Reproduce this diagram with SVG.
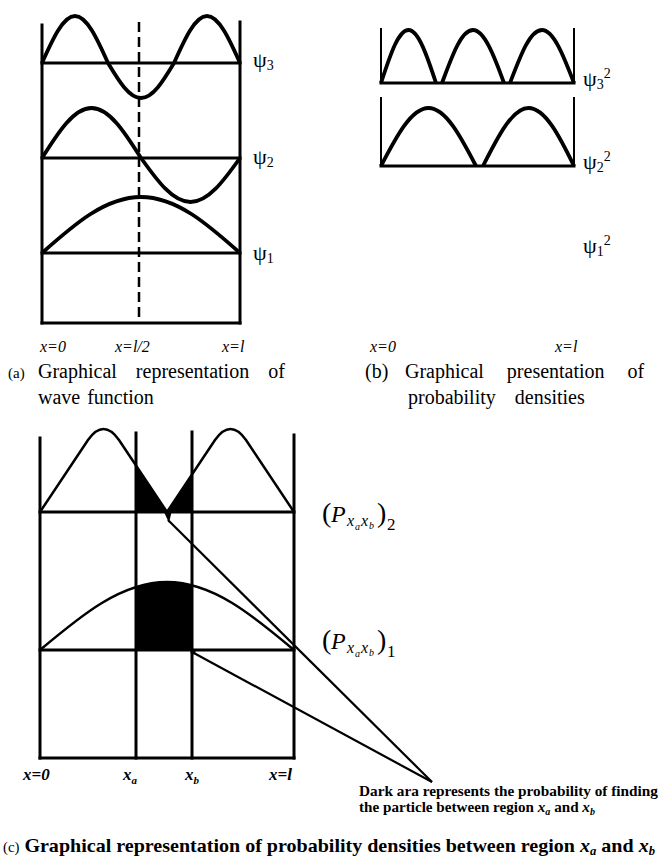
<svg xmlns="http://www.w3.org/2000/svg" width="662" height="863" viewBox="0 0 662 863">
<style>
  .frame{fill:none;stroke:#000;stroke-width:3;stroke-linecap:square}
  .thin{fill:none;stroke:#000;stroke-width:2}
  .curve{fill:none;stroke:#000;stroke-width:3.8;stroke-linejoin:round}
  .ccurve{fill:none;stroke:#000;stroke-width:2.5;stroke-linejoin:round}
  .dark{fill:#000;stroke:none}
  .dash{fill:none;stroke:#000;stroke-width:2.5;stroke-dasharray:10 5}
  .ptr{fill:none;stroke:#000;stroke-width:2.2}
  text{font-family:"Liberation Serif","Times New Roman",serif;fill:#000}
  .psi{font-size:22px}
  .ax{font-size:16px;font-style:italic}
  .axc{font-size:17px;font-style:italic;font-weight:bold}
  .cap{font-size:20px}
  .capb{font-size:19px;font-weight:bold}
  .note{font-size:15px;font-weight:bold}
  .it{font-style:italic}
</style>

<!-- Panel (a): wave functions -->
<g id="panel-a">
  <line class="frame" x1="42" y1="25" x2="42" y2="323"/>
  <line class="frame" x1="240" y1="22" x2="240" y2="323"/>
  <line class="frame" x1="42" y1="323" x2="240" y2="323"/>
  <line class="frame" x1="42" y1="63" x2="240" y2="63"/>
  <line class="frame" x1="42" y1="158" x2="240" y2="158"/>
  <line class="frame" x1="42" y1="253" x2="240" y2="253"/>
  <line class="dash" x1="139" y1="22" x2="139" y2="323"/>
  <path id="psi3" class="curve" d="M42,63 C52.73,38.99 63.12,16 75,16 C86.88,16 97.27,38.99 108,63 C118.73,80.88 129.12,98 141,98 C152.88,98 163.27,80.88 174,63 C184.73,38.99 195.12,16 207,16 C218.88,16 229.27,38.99 240,63"/>
  <path id="psi2" class="curve" d="M42,158 C58.10,132.45 73.68,108 91.5,108 C109.32,108 124.90,132.45 141,158 C157.10,180.48 172.68,202 190.5,202 C208.32,202 223.90,180.48 240,158"/>
  <path id="psi1" class="curve" d="M42,253 C74.19,224.39 105.37,197 141,197 C176.63,197 207.81,224.39 240,253"/>
  <text class="psi" x="253" y="67">ψ<tspan font-size="14" dy="3">3</tspan></text>
  <text class="psi" x="253" y="164">ψ<tspan font-size="14" dy="3">2</tspan></text>
  <text class="psi" x="253" y="260">ψ<tspan font-size="14" dy="3">1</tspan></text>
  <text class="ax" x="40" y="352">x=0</text>
  <text class="ax" x="115" y="352">x=l/2</text>
  <text class="ax" x="222" y="352">x=l</text>
  <text class="cap" x="8" y="378"><tspan font-size="15">(a)</tspan></text>
  <text class="cap" x="38" y="378" word-spacing="14">Graphical representation of</text>
  <text class="cap" x="38" y="404" word-spacing="2">wave function</text>
</g>

<!-- Panel (b): probability densities -->
<g id="panel-b">
  <line class="thin" x1="381" y1="28" x2="381" y2="83"/>
  <line class="thin" x1="574" y1="28" x2="574" y2="83"/>
  <line class="frame" x1="381" y1="83" x2="574" y2="83"/>
  <line class="thin" x1="381" y1="97" x2="381" y2="166"/>
  <line class="thin" x1="574" y1="97" x2="574" y2="166"/>
  <line class="frame" x1="381" y1="166" x2="574" y2="166"/>
  <path id="psi3sq" class="curve" d="M381,83 C390,55.9 398.1,30 408.5,30 C418.4,30 427.1,55.9 436,83 M442,83 C452.1,55.9 461.2,30 473,30 C484.2,30 494.2,55.9 504,83 M510,83 C520.4,55.9 529.8,30 542,30 C553.5,30 563.6,55.9 574,83"/>
  <path id="psi2sq" class="curve" d="M381,166 C396.4,136.4 411.4,108 428.5,108 C445.6,108 460.6,136.4 476,166 M483,166 C498,136.4 512.4,108 528.5,108 C545.1,108 559.6,136.4 574,166"/>
  <text class="psi" x="583" y="86">ψ<tspan font-size="14" dy="3">3</tspan><tspan font-size="14" dy="-11">2</tspan></text>
  <text class="psi" x="583" y="169">ψ<tspan font-size="14" dy="3">2</tspan><tspan font-size="14" dy="-11">2</tspan></text>
  <text class="psi" x="583" y="253">ψ<tspan font-size="14" dy="3">1</tspan><tspan font-size="14" dy="-11">2</tspan></text>
  <text class="ax" x="370" y="352">x=0</text>
  <text class="ax" x="555" y="352">x=l</text>
  <text class="cap" x="365" y="378">(b)</text>
  <text class="cap" x="405" y="378" word-spacing="18">Graphical presentation of</text>
  <text class="cap" x="408" y="404" word-spacing="14">probability densities</text>
</g>

<!-- Panel (c): probability between xa and xb -->
<g id="panel-c">
  <polygon class="dark" points="136,465.5 167,512 136,512"/>
  <polygon class="dark" points="167,512 192,474.5 192,512"/>
  <polygon class="dark" points="136,650 136,586.9 145,584.5 155,582.8 167,582 180,582.9 192,585.2 192,650"/>
  <line class="frame" x1="40" y1="438" x2="40" y2="758" stroke-width="2.5"/>
  <line class="frame" x1="136" y1="433" x2="136" y2="758" stroke-width="2.5"/>
  <line class="frame" x1="192" y1="432" x2="192" y2="758" stroke-width="2.5"/>
  <line class="frame" x1="294" y1="435" x2="294" y2="758" stroke-width="2.5"/>
  <line class="frame" x1="40" y1="758" x2="294" y2="758" stroke-width="2.5"/>
  <line class="frame" x1="40" y1="512" x2="294" y2="512" stroke-width="2.5"/>
  <line class="frame" x1="40" y1="650" x2="294" y2="650" stroke-width="2.5"/>
  <path id="p2" class="ccurve" d="M40,512 L88,440 Q103.5,418 119,440 L167,512 L215,440 Q230.5,418 246,440 L294,512"/>
  <path id="p1" class="ccurve" d="M40,650 C81.30,615.26 121.29,582 167,582 C212.71,582 252.70,615.26 294,650"/>
  <text class="axc" x="23" y="780">x=0</text>
  <text class="axc" x="123" y="780">x<tspan font-size="11" dy="4">a</tspan></text>
  <text class="axc" x="185" y="780">x<tspan font-size="11" dy="4">b</tspan></text>
  <text class="axc" x="269" y="780">x=l</text>
</g>

<!-- Labels for probability -->
<g id="label-p2">
  <text x="322" y="522" font-size="28">(</text>
  <text x="331" y="522" font-size="24" class="it">P</text>
  <text x="347" y="526" font-size="16" class="it">x</text>
  <text x="355" y="530" font-size="10" class="it">a</text>
  <text x="361" y="526" font-size="16" class="it">x</text>
  <text x="369" y="529" font-size="10" class="it">b</text>
  <text x="377" y="522" font-size="28">)</text>
  <text x="387" y="530" font-size="17">2</text>
</g>
<g id="label-p1">
  <text x="322" y="649" font-size="28">(</text>
  <text x="331" y="649" font-size="24" class="it">P</text>
  <text x="347" y="653" font-size="16" class="it">x</text>
  <text x="355" y="657" font-size="10" class="it">a</text>
  <text x="361" y="653" font-size="16" class="it">x</text>
  <text x="369" y="656" font-size="10" class="it">b</text>
  <text x="377" y="649" font-size="28">)</text>
  <text x="387" y="657" font-size="17">1</text>
</g>

<!-- Connectors (pointer lines) -->
<g id="connectors">
  <polygon class="dark" points="164,512 172,510 169,523"/>
  <line class="ptr" x1="168" y1="520" x2="432" y2="782"/>
  <circle class="dark" cx="193" cy="652" r="2.5"/>
  <line class="ptr" x1="192" y1="652" x2="432" y2="782"/>
</g>

<g id="note">
  <text class="note" x="359" y="796" textLength="299" lengthAdjust="spacingAndGlyphs">Dark ara represents the probability of finding</text>
  <text class="note" x="359" y="812" textLength="236" lengthAdjust="spacingAndGlyphs">the particle between region <tspan class="it">x</tspan><tspan font-size="10" dy="3" class="it">a</tspan><tspan dy="-3"> and </tspan><tspan class="it">x</tspan><tspan font-size="10" dy="3" class="it">b</tspan></text>
</g>

<g id="caption-c">
  <text class="capb" x="3" y="852" textLength="652" lengthAdjust="spacingAndGlyphs"><tspan font-size="14" font-weight="normal">(c)</tspan> Graphical representation of probability densities between region <tspan class="it">x</tspan><tspan font-size="12" dy="3" class="it">a</tspan><tspan dy="-3"> and </tspan><tspan class="it">x</tspan><tspan font-size="12" dy="3" class="it">b</tspan></text>
</g>
</svg>
